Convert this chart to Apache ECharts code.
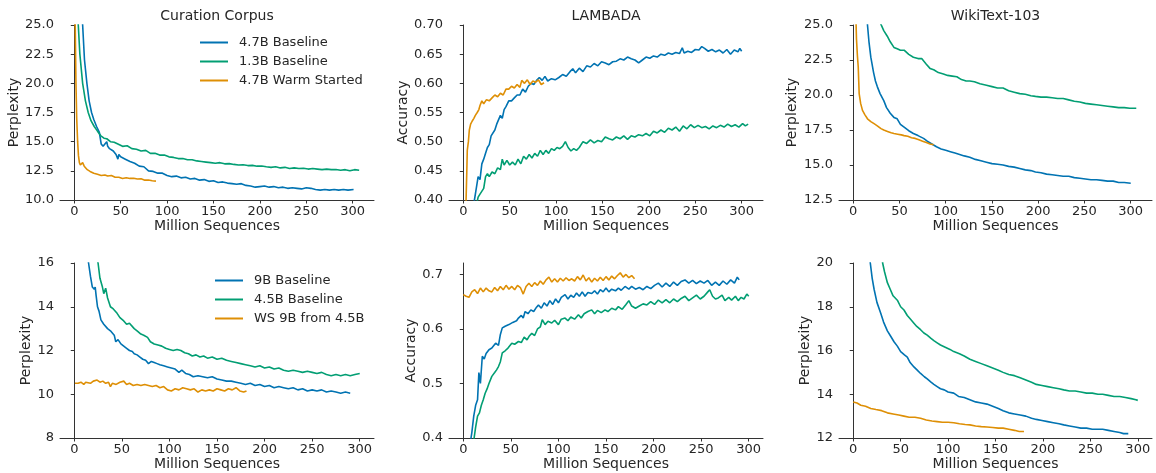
<!DOCTYPE html>
<html>
<head>
<meta charset="utf-8">
<script src="https://cdn.jsdelivr.net/npm/echarts@6/dist/echarts.min.js"></script>
<style>
    html, body { margin: 0; padding: 0; background: #fff; }
    #chart { width: 1156px; height: 473px; }
</style>
</head>
<body>
<div id="chart"></div>
<script>
// ---- data: [million sequences, value] ----
// Curation Corpus (perplexity)
var ccBase47 = [[8,26],[9,25],[11,22],[13.6,20],[16,18.5],[18.6,17.5],[21,16.9],[24,16.3],[27,15.8],[29,14.8],[31,14.6],[33,14.7],[35,15.0],[36,14.6],[38,14.4],[42,14.2],[45,13.9],[47,13.5],[48,13.9],[50,13.7],[55,13.5],[60,13.3],[65,13.15],[70,12.9],[75,12.85],[80,12.5],[85,12.45],[90,12.3],[95,12.3],[100,12.1],[105,12.0],[110,12.05],[115,11.9],[120,11.95],[125,11.8],[130,11.85],[135,11.7],[140,11.75],[145,11.6],[150,11.65],[155,11.5],[160,11.55],[165,11.45],[170,11.4],[175,11.35],[180,11.4],[185,11.25],[190,11.2],[195,11.1],[200,11.15],[205,11.2],[210,11.1],[215,11.15],[220,11.05],[225,11.1],[230,11.0],[235,11.05],[240,11.0],[245,10.95],[250,11.05],[255,11.0],[260,10.9],[265,10.85],[270,10.9],[275,10.85],[280,10.9],[285,10.85],[290,10.9],[295,10.85],[301,10.9]];
var ccBase13 = [[4,26],[4.3,25],[6,22.5],[9,20],[12,18.5],[15,17.5],[18,16.8],[21.5,16.3],[25,15.9],[28.6,15.5],[32,15.3],[35,15.25],[39,15.0],[43,14.95],[47,14.8],[52,14.6],[57,14.65],[62,14.4],[67,14.35],[72,14.2],[77,14.25],[82,14.0],[87,14.0],[92,13.85],[97,13.85],[102,13.7],[107,13.65],[112,13.55],[117,13.55],[122,13.45],[127,13.45],[132,13.35],[137,13.3],[142,13.25],[147,13.2],[152,13.15],[157,13.2],[162,13.1],[167,13.12],[172,13.05],[177,13.0],[182,13.02],[187,12.95],[192,12.97],[197,12.9],[202,12.92],[207,12.85],[212,12.8],[217,12.85],[222,12.75],[227,12.8],[232,12.7],[237,12.75],[242,12.7],[247,12.72],[252,12.65],[257,12.7],[262,12.65],[267,12.6],[272,12.65],[277,12.6],[282,12.62],[287,12.55],[292,12.6],[297,12.5],[302,12.6],[307,12.55]];
var ccWarm47 = [[0.7,26],[1,25],[1.8,20],[2.6,17],[3.6,15],[4.5,13.8],[5.5,13.2],[6.5,13.0],[8,13.1],[9,13.2],[10.7,12.9],[12,12.8],[14,12.6],[17,12.45],[21,12.3],[25,12.2],[29,12.1],[33,12.15],[36,12.05],[40,12.1],[44,11.95],[48,11.95],[52,11.85],[56,11.9],[60,11.85],[64,11.87],[68,11.8],[72,11.82],[76,11.7],[80,11.72],[84,11.65],[88,11.62]];

// LAMBADA (accuracy)
var lbBase47 = [[11,0.39],[12,0.40],[14,0.42],[16,0.44],[18,0.435],[20,0.462],[22,0.47],[24,0.48],[26,0.49],[28,0.495],[30,0.51],[32,0.51],[34,0.52],[36,0.53],[38,0.53],[40,0.545],[42,0.54],[44,0.555],[46,0.56],[49,0.57],[52,0.57],[55,0.575],[58,0.58],[61,0.58],[64,0.59],[67,0.585],[70,0.595],[73,0.6],[76,0.598],[79,0.605],[82,0.61],[85,0.605],[88,0.612],[91,0.604],[95,0.608],[99,0.606],[103,0.61],[107,0.615],[111,0.612],[115,0.62],[118,0.625],[121,0.618],[125,0.626],[129,0.62],[133,0.63],[137,0.628],[141,0.634],[145,0.63],[149,0.637],[153,0.635],[157,0.632],[161,0.637],[165,0.638],[169,0.642],[173,0.64],[177,0.645],[181,0.642],[185,0.64],[189,0.635],[193,0.64],[197,0.645],[201,0.643],[205,0.647],[209,0.645],[213,0.65],[217,0.648],[221,0.652],[225,0.65],[229,0.653],[233,0.651],[236,0.661],[238,0.652],[242,0.655],[246,0.653],[250,0.658],[254,0.657],[257,0.663],[260,0.66],[264,0.655],[268,0.658],[272,0.654],[276,0.657],[280,0.652],[284,0.658],[288,0.65],[292,0.657],[296,0.654],[298,0.66],[300,0.655]];
var lbBase13 = [[14,0.39],[16,0.405],[18,0.41],[20,0.41],[22,0.42],[24,0.44],[26,0.445],[28,0.44],[31,0.448],[34,0.445],[37,0.455],[40,0.452],[42,0.47],[44,0.46],[47,0.468],[50,0.46],[53,0.465],[56,0.46],[59,0.47],[62,0.462],[65,0.475],[68,0.47],[71,0.478],[74,0.472],[77,0.48],[80,0.475],[83,0.485],[86,0.478],[89,0.485],[92,0.48],[95,0.488],[98,0.485],[101,0.49],[104,0.488],[107,0.492],[110,0.5],[113,0.49],[116,0.484],[119,0.488],[122,0.485],[125,0.49],[129,0.5],[133,0.497],[137,0.503],[141,0.498],[145,0.502],[149,0.5],[153,0.508],[157,0.505],[161,0.503],[165,0.508],[169,0.505],[173,0.51],[177,0.504],[181,0.51],[185,0.508],[189,0.512],[193,0.51],[197,0.514],[201,0.51],[205,0.518],[209,0.515],[213,0.52],[217,0.516],[221,0.523],[225,0.52],[229,0.525],[233,0.518],[237,0.527],[241,0.522],[245,0.529],[249,0.524],[253,0.528],[257,0.524],[261,0.526],[265,0.522],[269,0.527],[273,0.524],[277,0.528],[281,0.525],[285,0.53],[289,0.526],[293,0.529],[297,0.525],[301,0.531],[304,0.527],[307,0.53]];
var lbWarm47 = [[2.5,0.39],[3,0.40],[3.8,0.45],[4.3,0.485],[5.5,0.50],[6.5,0.52],[7.9,0.53],[9.5,0.535],[11.4,0.54],[13,0.545],[15,0.55],[16.8,0.555],[18,0.562],[20,0.57],[22,0.565],[25,0.572],[28,0.57],[31,0.575],[34,0.58],[37,0.577],[40,0.583],[43,0.58],[46,0.59],[49,0.59],[52,0.595],[55,0.592],[58,0.598],[61,0.593],[63,0.605],[66,0.6],[69,0.606],[72,0.598],[75,0.604],[78,0.602],[81,0.606],[84,0.598],[87,0.601]];

// WikiText-103 (perplexity)
var wtBase47 = [[15,25.5],[15.4,25],[17,23.8],[19,22.7],[22,21.6],[24,21.0],[26,20.6],[29,20.1],[33,19.6],[36,19.1],[40,18.7],[44,18.4],[47.5,18.3],[51,17.9],[55,17.7],[60,17.45],[65,17.25],[70,17.1],[76,16.9],[80,16.7],[85,16.5],[90,16.3],[95,16.15],[100,16.05],[105,15.95],[110,15.85],[115,15.75],[120,15.65],[126,15.55],[132,15.4],[138,15.3],[144,15.2],[150,15.1],[156,15.05],[162,15.0],[168,14.9],[174,14.85],[180,14.75],[186,14.65],[192,14.6],[197,14.5],[203,14.45],[209,14.35],[215,14.3],[221,14.25],[227,14.2],[233,14.2],[239,14.1],[245,14.05],[251,14.0],[257,13.95],[263,13.95],[269,13.9],[275,13.85],[281,13.85],[287,13.75],[293,13.75],[300,13.7]];
var wtBase13 = [[29.6,25.1],[33,24.6],[36.8,24.2],[40,23.8],[44,23.4],[47.5,23.3],[51,23.2],[55,23.2],[60,22.9],[65,22.7],[70,22.6],[74,22.6],[76,22.5],[79,22.2],[83,21.9],[87,21.8],[92,21.6],[97.5,21.5],[102,21.4],[107,21.35],[112,21.3],[117,21.1],[122,21.0],[126,21.0],[131,20.95],[137,20.8],[144,20.7],[150,20.6],[156,20.5],[162,20.5],[168,20.3],[174,20.2],[180,20.1],[186,20.05],[192,19.95],[197,19.9],[203,19.85],[209,19.85],[215,19.8],[221,19.75],[227,19.75],[233,19.65],[239,19.55],[245,19.5],[251,19.4],[257,19.35],[263,19.3],[269,19.25],[275,19.2],[281,19.15],[287,19.1],[293,19.1],[299,19.05],[306,19.05]];
var wtWarm47 = [[2.9,25.5],[3.5,24],[4.5,22.8],[5.4,22],[6.4,20.1],[8,19.4],[10,18.9],[12.5,18.6],[15.4,18.3],[19,18.1],[22.5,17.95],[26,17.8],[30,17.6],[33,17.5],[37,17.4],[41,17.3],[44,17.25],[48,17.2],[52,17.15],[55,17.1],[59,17.05],[63,16.95],[67,16.9],[71,16.8],[75,16.7],[79,16.6],[83,16.5],[87,16.45]];

// Curation Corpus, 9B runs (perplexity)
var cc2Base9 = [[14.5,16.2],[15,16],[17,15.4],[19,14.9],[21,14.8],[22,14.9],[23,14.5],[24.4,14.0],[26,13.8],[28,13.4],[31,13.2],[35,13.0],[38,12.9],[40,12.8],[42,12.7],[43.6,12.4],[46,12.5],[49,12.3],[52,12.2],[55,12.1],[58,12.0],[61,11.95],[63,11.85],[66,11.8],[69,11.7],[72,11.6],[75,11.55],[78,11.4],[81,11.5],[84,11.45],[87,11.4],[90,11.35],[94,11.3],[98,11.25],[102,11.2],[106,11.15],[110,11.0],[113,11.1],[117,10.95],[121,10.9],[125,10.8],[130,10.85],[135,10.8],[140,10.75],[145,10.8],[150,10.7],[155,10.65],[160,10.6],[165,10.6],[170,10.55],[175,10.5],[180,10.45],[185,10.5],[190,10.4],[195,10.45],[200,10.35],[205,10.4],[210,10.3],[215,10.35],[220,10.3],[225,10.25],[230,10.3],[235,10.2],[240,10.25],[245,10.15],[250,10.2],[255,10.15],[260,10.2],[265,10.1],[270,10.15],[275,10.1],[280,10.05],[285,10.1],[290,10.05]];
var cc2Base45 = [[24,16.2],[25,16],[27,15.3],[29.6,14.9],[31,14.6],[33,14.85],[35,14.4],[38,14.0],[41,13.9],[45,13.7],[48,13.5],[52,13.35],[55,13.2],[58,13.25],[63,13.0],[66,12.9],[70,12.75],[73,12.7],[77,12.6],[80,12.4],[84,12.3],[88,12.25],[92,12.2],[96,12.1],[100,12.05],[104,12.0],[108,12.05],[112,12.0],[116,11.9],[120,11.85],[124,11.75],[128,11.8],[132,11.7],[136,11.75],[140,11.65],[145,11.7],[150,11.6],[155,11.65],[160,11.55],[165,11.5],[170,11.45],[175,11.4],[180,11.35],[185,11.3],[190,11.25],[195,11.3],[200,11.2],[205,11.25],[210,11.15],[215,11.2],[220,11.1],[225,11.05],[230,11.1],[235,11.05],[240,11.0],[245,11.05],[250,11.0],[255,10.95],[260,11.0],[265,10.9],[270,10.85],[275,10.9],[280,10.85],[285,10.9],[290,10.85],[295,10.9],[300,10.95]];
var cc2Warm9 = [[0.7,10.5],[4,10.5],[7,10.55],[10,10.45],[12,10.55],[14,10.6],[17,10.5],[20,10.6],[24,10.65],[27,10.55],[30,10.6],[33,10.5],[36,10.55],[38,10.35],[40,10.5],[44,10.45],[48,10.55],[52,10.6],[55,10.45],[58,10.5],[62,10.4],[66,10.45],[70,10.4],[74,10.45],[78,10.4],[82,10.35],[86,10.4],[90,10.3],[94,10.35],[98,10.2],[102,10.15],[106,10.25],[110,10.2],[114,10.3],[118,10.25],[122,10.2],[126,10.25],[130,10.1],[134,10.2],[138,10.15],[142,10.2],[146,10.15],[150,10.25],[154,10.2],[158,10.15],[162,10.25],[166,10.2],[170,10.3],[174,10.15],[178,10.1],[181,10.15]];

// LAMBADA, 9B runs (accuracy)
var lb2Base9 = [[7.7,0.395],[9,0.41],[11,0.44],[13,0.46],[15,0.47],[16.4,0.52],[18,0.5],[20,0.55],[22,0.545],[24,0.555],[27,0.562],[30,0.565],[34,0.574],[37,0.57],[39,0.59],[41,0.602],[44,0.605],[48,0.608],[52,0.612],[56,0.615],[58,0.62],[61,0.625],[63,0.62],[65,0.632],[68,0.628],[71,0.635],[74,0.632],[77,0.64],[79,0.644],[82,0.638],[85,0.648],[88,0.642],[91,0.652],[94,0.645],[97,0.655],[100,0.648],[103,0.658],[107,0.663],[110,0.655],[113,0.662],[116,0.658],[119,0.666],[122,0.66],[125,0.668],[128,0.66],[131,0.667],[135,0.665],[138,0.67],[141,0.664],[144,0.672],[147,0.668],[150,0.675],[153,0.668],[156,0.673],[160,0.67],[163,0.675],[166,0.671],[170,0.678],[174,0.673],[177,0.678],[181,0.673],[185,0.676],[189,0.672],[193,0.678],[197,0.674],[201,0.68],[205,0.684],[209,0.677],[213,0.684],[217,0.678],[221,0.686],[225,0.68],[229,0.687],[233,0.69],[237,0.684],[241,0.689],[245,0.683],[249,0.688],[253,0.684],[257,0.689],[261,0.68],[265,0.686],[269,0.68],[273,0.688],[277,0.682],[281,0.69],[285,0.684],[288,0.695],[290,0.69]];
var lb2Base45 = [[11,0.395],[13,0.42],[15,0.44],[17,0.446],[19,0.46],[21,0.47],[23,0.482],[25,0.49],[27,0.5],[30,0.513],[33,0.52],[35,0.525],[37,0.531],[39,0.54],[41,0.556],[44,0.56],[47,0.565],[51,0.574],[54,0.572],[58,0.577],[61,0.575],[64,0.585],[67,0.58],[69,0.586],[72,0.592],[75,0.588],[78,0.6],[81,0.604],[83,0.617],[86,0.608],[89,0.614],[93,0.611],[96,0.616],[100,0.608],[103,0.618],[107,0.62],[110,0.615],[113,0.622],[117,0.618],[121,0.626],[124,0.62],[127,0.628],[131,0.632],[135,0.635],[138,0.628],[141,0.634],[145,0.63],[149,0.635],[152,0.632],[156,0.638],[160,0.635],[163,0.641],[167,0.636],[171,0.645],[174,0.652],[177,0.642],[181,0.638],[185,0.642],[189,0.646],[193,0.644],[197,0.65],[201,0.645],[205,0.653],[209,0.648],[213,0.654],[217,0.648],[221,0.655],[225,0.65],[229,0.656],[233,0.66],[237,0.652],[241,0.657],[245,0.662],[249,0.655],[253,0.66],[257,0.668],[259,0.672],[262,0.66],[265,0.655],[268,0.657],[272,0.662],[275,0.652],[279,0.658],[282,0.653],[286,0.66],[289,0.652],[292,0.658],[295,0.655],[298,0.664],[300,0.66]];
var lb2Warm9 = [[0,0.663],[3,0.66],[6,0.658],[9,0.668],[12,0.672],[15,0.665],[18,0.675],[21,0.668],[24,0.675],[27,0.67],[30,0.668],[33,0.676],[36,0.67],[39,0.678],[42,0.672],[45,0.68],[48,0.673],[51,0.678],[54,0.672],[57,0.68],[60,0.676],[63,0.664],[66,0.678],[69,0.684],[72,0.678],[75,0.685],[78,0.68],[81,0.688],[84,0.682],[87,0.69],[90,0.695],[93,0.686],[96,0.692],[99,0.686],[102,0.693],[105,0.688],[108,0.694],[111,0.689],[114,0.692],[117,0.688],[120,0.696],[123,0.69],[126,0.699],[129,0.688],[132,0.694],[135,0.686],[138,0.693],[141,0.688],[144,0.695],[147,0.689],[150,0.696],[153,0.69],[156,0.697],[159,0.692],[162,0.698],[165,0.703],[168,0.695],[171,0.7],[174,0.694],[177,0.698],[180,0.692]];

// WikiText-103, 9B runs (perplexity)
var wt2Base9 = [[17.5,20.2],[18,20],[20,19.3],[22,18.8],[25,18.2],[29,17.7],[32,17.3],[36,16.9],[39.5,16.65],[43,16.4],[46.5,16.2],[50,15.95],[54,15.8],[57,15.7],[60,15.45],[64,15.25],[67.5,15.1],[71,14.95],[75,14.8],[78,14.7],[82,14.55],[85,14.45],[88.5,14.35],[92,14.25],[96,14.2],[100,14.1],[106,14.05],[111,13.9],[117,13.85],[123,13.75],[129,13.65],[135,13.6],[141,13.55],[147,13.45],[153,13.35],[158,13.25],[164,13.15],[170,13.1],[176,13.05],[182,13.0],[188,12.9],[193,12.85],[199,12.8],[205,12.75],[211,12.7],[217,12.65],[222,12.6],[228,12.55],[234,12.5],[240,12.45],[246,12.45],[252,12.4],[258,12.4],[263,12.4],[269,12.35],[275,12.3],[281,12.25],[285,12.2],[290,12.2]];
var wt2Base45 = [[30.5,20.2],[31,20],[33,19.6],[36,19.1],[39,18.8],[42,18.5],[46.5,18.3],[50,18.0],[53.5,17.85],[57,17.6],[60,17.45],[64,17.25],[67,17.1],[71,16.95],[74.5,16.8],[78,16.7],[82,16.55],[85,16.45],[88.5,16.35],[92,16.25],[97,16.15],[102,16.05],[106,15.95],[112,15.85],[117,15.75],[123,15.6],[129,15.5],[135,15.4],[141,15.3],[147,15.2],[153,15.1],[158,15.0],[164,14.9],[170,14.85],[176,14.75],[182,14.65],[188,14.55],[193,14.45],[199,14.4],[205,14.35],[211,14.3],[217,14.25],[222,14.2],[228,14.15],[234,14.15],[240,14.1],[246,14.05],[252,14.05],[258,14.0],[263,14.0],[269,13.95],[275,13.9],[281,13.9],[287,13.85],[293,13.8],[298,13.75],[300,13.72]];
var wt2Warm9 = [[0,13.65],[4,13.6],[8,13.5],[13,13.45],[18.5,13.35],[24,13.3],[30,13.25],[36,13.15],[42,13.1],[48,13.05],[53.5,13.0],[59,12.95],[65,12.95],[71,12.9],[77,12.82],[83,12.78],[88.5,12.75],[94,12.72],[100,12.72],[106,12.7],[112,12.65],[118,12.62],[123,12.6],[129,12.55],[135,12.52],[141,12.5],[147,12.48],[153,12.45],[158,12.45],[164,12.4],[170,12.35],[175,12.3],[180,12.3]];

// ---- ticks ----
var xTicks = [0, 50, 100, 150, 200, 250, 300];
var yTicksPpl25 = [10, 12.5, 15, 17.5, 20, 22.5, 25];
var yTicksAcc70 = [0.40, 0.45, 0.50, 0.55, 0.60, 0.65, 0.70];
var yTicksWiki25 = [12.5, 15, 17.5, 20, 22.5, 25];
var yTicksPpl16 = [8, 10, 12, 14, 16];
var yTicksAcc7 = [0.4, 0.5, 0.6, 0.7];
var yTicksWiki20 = [12, 14, 16, 18, 20];

var topNames = ['4.7B Baseline', '1.3B Baseline', '4.7B Warm Started'];
var bottomNames = ['9B Baseline', '4.5B Baseline', 'WS 9B from 4.5B'];
var titles = ['Curation Corpus', 'LAMBADA', 'WikiText-103'];

var COLORS = ['#0173b2', '#029e73', '#de8f05'];
var FONT = 'DejaVu Sans';
var INK = '#262626';

var Panels = {
    chart: null,
    // grid boxes in px
    grids: [
        { left: 60,  top: 25,  width: 314, height: 175 },
        { left: 449, top: 25,  width: 314, height: 175 },
        { left: 839, top: 25,  width: 313, height: 175 },
        { left: 60,  top: 263, width: 314, height: 175 },
        { left: 449, top: 263, width: 314, height: 175 },
        { left: 839, top: 263, width: 313, height: 175 }
    ]
};

/**
 * x axis for one panel
 */
Panels.xAxis = function (i, min, max) {
    return {
        type: 'value', gridIndex: i, min: min, max: max,
        name: 'Million Sequences', nameLocation: 'middle', nameGap: 17,
        nameTextStyle: { fontFamily: FONT, fontSize: 14, color: INK },
        axisLine: { lineStyle: { color: '#333', width: 1 } },
        axisTick: { length: 3.5, lineStyle: { color: '#333' }, customValues: xTicks },
        axisLabel: { fontFamily: FONT, fontSize: 13, color: INK, margin: 5, customValues: xTicks },
        splitLine: { show: false }
    };
};

/**
 * y axis for one panel
 */
Panels.yAxis = function (i, name, min, max, ticks, digits, gap) {
    return {
        type: 'value', gridIndex: i, min: min, max: max,
        name: name, nameLocation: 'middle', nameGap: gap, nameRotate: 90,
        nameTextStyle: { fontFamily: FONT, fontSize: 14, color: INK },
        axisLine: { show: true, lineStyle: { color: '#333', width: 1 } },
        axisTick: { show: true, length: 3.5, lineStyle: { color: '#333' }, customValues: ticks },
        axisLabel: {
            fontFamily: FONT, fontSize: 13, color: INK, margin: 6, customValues: ticks,
            formatter: function (v) { return v.toFixed(digits); }
        },
        splitLine: { show: false }
    };
};

Panels.line = function (name, idx, color, data) {
    return {
        name: name, type: 'line', xAxisIndex: idx, yAxisIndex: idx,
        data: data, symbol: 'none', showSymbol: false, clip: true,
        lineStyle: { color: color, width: 1.6 }, itemStyle: { color: color },
        emphasis: { disabled: true }
    };
};

Panels.legend = function (names, left, top) {
    return {
        data: names, orient: 'vertical', left: left, top: top, padding: 0,
        icon: 'rect', itemWidth: 28, itemHeight: 2, itemGap: 4,
        textStyle: { fontFamily: FONT, fontSize: 13, color: INK, lineHeight: 15, padding: [0, 0, 0, 6] }
    };
};

Panels.init = function () {
    Panels.chart = echarts.init(document.getElementById('chart'), null, { renderer: 'canvas' });

    var grids = Panels.grids.map(function (g) {
        return { left: g.left, top: g.top, width: g.width, height: g.height, containLabel: false, outerBoundsMode: 'none' };
    });

    var xAxes = [
        Panels.xAxis(0, -15.4, 323), Panels.xAxis(1, -15.4, 323), Panels.xAxis(2, -15.4, 323),
        Panels.xAxis(3, -15, 315), Panels.xAxis(4, -15, 315), Panels.xAxis(5, -15, 315)
    ];
    var yAxes = [
        Panels.yAxis(0, 'Perplexity', 10, 25, yTicksPpl25, 1, 39),
        Panels.yAxis(1, 'Accuracy', 0.40, 0.70, yTicksAcc70, 2, 39),
        Panels.yAxis(2, 'Perplexity', 12.5, 25, yTicksWiki25, 1, 40),
        Panels.yAxis(3, 'Perplexity', 8, 16, yTicksPpl16, 0, 27),
        Panels.yAxis(4, 'Accuracy', 0.4, 0.721, yTicksAcc7, 1, 30),
        Panels.yAxis(5, 'Perplexity', 12, 20, yTicksWiki20, 0, 27)
    ];

    var series = [
        Panels.line(topNames[0], 0, COLORS[0], ccBase47),
        Panels.line(topNames[1], 0, COLORS[1], ccBase13),
        Panels.line(topNames[2], 0, COLORS[2], ccWarm47),
        Panels.line(topNames[0], 1, COLORS[0], lbBase47),
        Panels.line(topNames[1], 1, COLORS[1], lbBase13),
        Panels.line(topNames[2], 1, COLORS[2], lbWarm47),
        Panels.line(topNames[0], 2, COLORS[0], wtBase47),
        Panels.line(topNames[1], 2, COLORS[1], wtBase13),
        Panels.line(topNames[2], 2, COLORS[2], wtWarm47),
        Panels.line(bottomNames[0], 3, COLORS[0], cc2Base9),
        Panels.line(bottomNames[1], 3, COLORS[1], cc2Base45),
        Panels.line(bottomNames[2], 3, COLORS[2], cc2Warm9),
        Panels.line(bottomNames[0], 4, COLORS[0], lb2Base9),
        Panels.line(bottomNames[1], 4, COLORS[1], lb2Base45),
        Panels.line(bottomNames[2], 4, COLORS[2], lb2Warm9),
        Panels.line(bottomNames[0], 5, COLORS[0], wt2Base9),
        Panels.line(bottomNames[1], 5, COLORS[1], wt2Base45),
        Panels.line(bottomNames[2], 5, COLORS[2], wt2Warm9)
    ];

    // panel titles, centred over the top row
    var graphics = titles.map(function (t, i) {
        var g = Panels.grids[i];
        return {
            type: 'text', x: g.left + g.width / 2, y: 16,
            style: { text: t, fill: INK, font: '14px "' + FONT + '"', textAlign: 'center', textVerticalAlign: 'middle' }
        };
    });

    Panels.chart.setOption({
        backgroundColor: '#fff',
        animation: false,
        grid: grids,
        xAxis: xAxes,
        yAxis: yAxes,
        legend: [Panels.legend(topNames, 200, 35), Panels.legend(bottomNames, 215, 273)],
        graphic: graphics,
        series: series
    });
};

Panels.init();
</script>
</body>
</html>
